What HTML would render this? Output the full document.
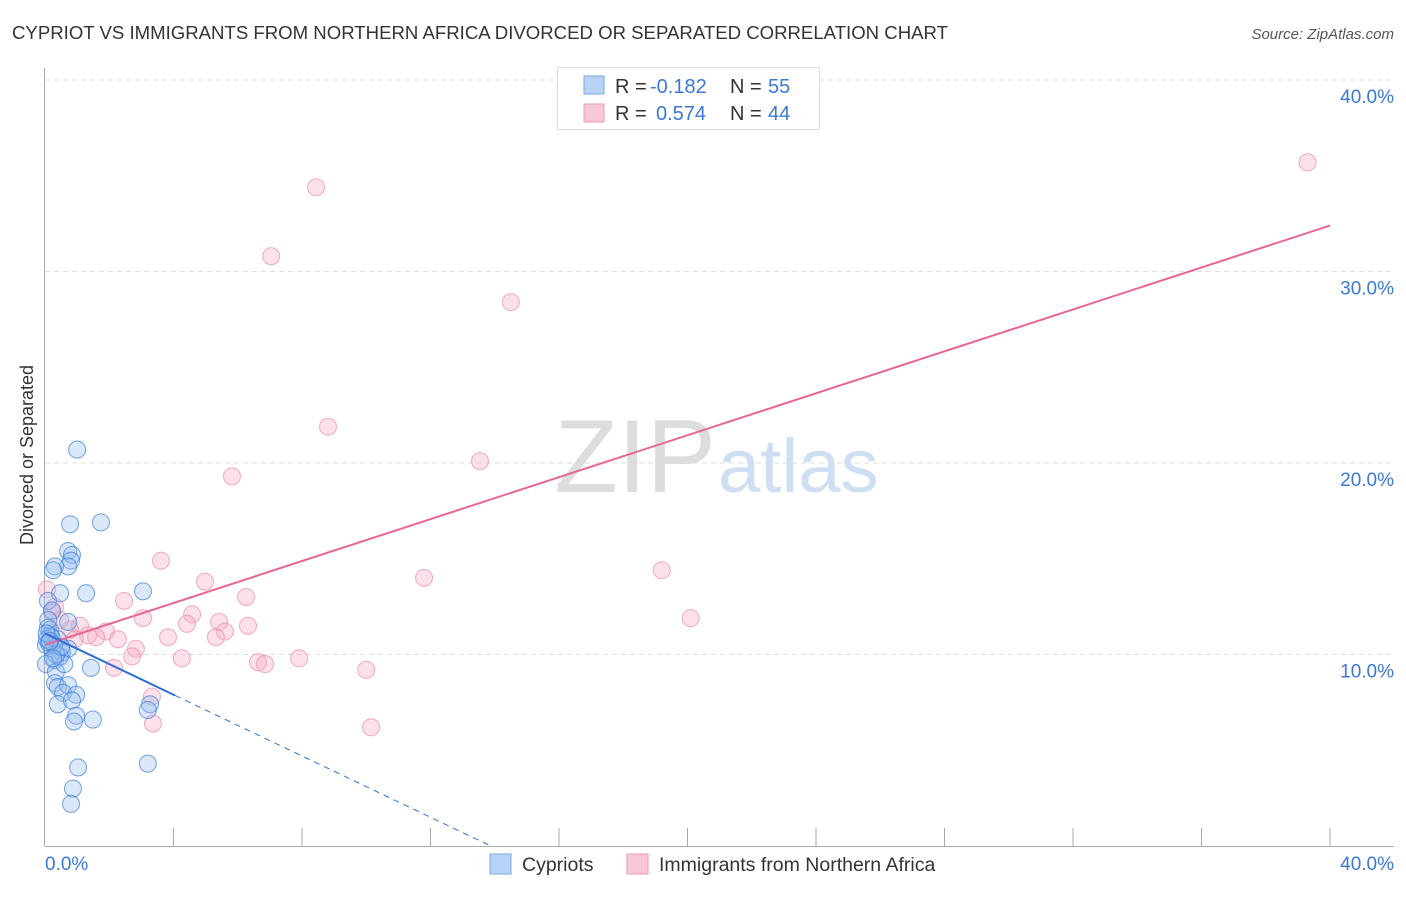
<!DOCTYPE html>
<html><head><meta charset="utf-8"><style>
body{margin:0;background:#fff;font-family:"Liberation Sans",sans-serif;}
svg text{font-family:"Liberation Sans",sans-serif;}
</style></head><body>
<svg id="chart" width="1406" height="892">
<text x="12" y="39" font-size="18.6" fill="#333">CYPRIOT VS IMMIGRANTS FROM NORTHERN AFRICA DIVORCED OR SEPARATED CORRELATION CHART</text>
<text x="1394" y="39" font-size="15" fill="#555" text-anchor="end" font-style="italic">Source: ZipAtlas.com</text>
<g id="grid"></g>
<text x="716" y="492" font-size="104" fill="#ddd" text-anchor="end" font-family="Liberation Serif">ZIP</text>
<text x="718" y="492" font-size="76" fill="#cfdff3">atlas</text>
<g id="ticks"></g>
<g id="pts"></g>
<g id="lines"></g>
<text x="33" y="455" font-size="18" fill="#333" text-anchor="middle" transform="rotate(-90 33 455)">Divorced or Separated</text>
<g>
<rect x="557.5" y="67.5" width="262" height="62" fill="#fff" stroke="#ddd"/>
<rect x="584" y="76" width="20" height="18" fill="#b8d3f5" stroke="#7aa7e6"/>
<rect x="584" y="104" width="20" height="18" fill="#f9c8d6" stroke="#ee9ab3"/>
<text x="615" y="93" font-size="20" fill="#333">R = <tspan x="650" fill="#3b78d8">-0.182</tspan></text>
<text x="730" y="93" font-size="20" fill="#333">N = <tspan x="768" fill="#3b78d8">55</tspan></text>
<text x="615" y="120" font-size="20" fill="#333">R = <tspan x="656" fill="#3b78d8">0.574</tspan></text>
<text x="730" y="120" font-size="20" fill="#333">N = <tspan x="768" fill="#3b78d8">44</tspan></text>
</g>
<g>
<rect x="490" y="854" width="21" height="20" fill="#b8d3f5" stroke="#7aa7e6"/>
<text x="522" y="871" font-size="19.5" fill="#333">Cypriots</text>
<rect x="627" y="854" width="21" height="20" fill="#f9c8d6" stroke="#ee9ab3"/>
<text x="659" y="871" font-size="19.5" fill="#333">Immigrants from Northern Africa</text>
</g>
<text x="45" y="870" font-size="19" fill="#3b78d8">0.0%</text>
<text x="1394" y="870" font-size="19" fill="#3b78d8" text-anchor="end">40.0%</text>
</svg>
<script>
const yTicks=[10,20,30,40];
const yTickLabels=["10.0%","20.0%","30.0%","40.0%"];
const blueX=[1.0,0.78,1.74,0.72,0.84,0.81,0.72,0.31,0.25,0.47,1.28,3.05,0.09,0.22,0.72,0.09,0.16,0.4,0.03,0.22,0.53,0.72,0.31,0.03,0.34,1.43,0.31,0.4,0.72,0.56,0.97,0.4,0.84,3.27,3.2,0.97,0.9,1.49,1.03,3.2,0.87,0.81,0.16,0.06,0.47,0.6,0.1,0.28,0.2,0.12,0.35,0.05,0.5,0.15,0.25];
const blueY=[20.7,16.8,16.9,15.4,15.2,14.9,14.6,14.6,14.4,13.2,13.2,13.3,12.8,12.3,11.7,11.4,11.0,10.8,10.5,10.3,10.1,10.3,9.7,9.5,9.1,9.3,8.5,8.3,8.4,8.0,7.9,7.4,7.6,7.4,7.1,6.8,6.5,6.6,4.1,4.3,3.0,2.2,11.3,10.8,9.9,9.5,11.8,10.5,10.9,10.6,10.0,11.1,10.4,10.7,9.8];
const pinkX=[39.3,8.44,7.04,14.5,8.81,13.54,5.82,3.61,19.2,11.8,4.98,2.46,6.26,0.31,4.58,3.05,20.1,4.42,5.42,6.32,1.09,1.9,0.78,5.6,5.32,3.83,2.27,1.59,2.83,2.71,4.26,7.91,6.63,6.85,2.15,10.0,3.33,3.36,10.15,0.22,0.06,0.47,1.34,0.93];
const pinkY=[35.7,34.4,30.8,28.4,21.9,20.1,19.3,14.9,14.4,14.0,13.8,12.8,13.0,12.5,12.1,11.9,11.9,11.6,11.7,11.5,11.5,11.2,11.3,11.2,10.9,10.9,10.8,10.9,10.3,9.9,9.8,9.8,9.6,9.5,9.3,9.2,7.8,6.4,6.2,12.2,13.4,11.8,11.0,10.8];
const pinkTrend=[10.5,32.4];
const blueTrend=[11.1,-0.8];
const NS="http://www.w3.org/2000/svg";
const sx=v=>45+v/40*1285, sy=v=>846-v/10*191.5;
function mk(tag,attrs,parent){const e=document.createElementNS(NS,tag);for(const k in attrs)e.setAttribute(k,attrs[k]);document.getElementById(parent).appendChild(e);return e;}
yTicks.forEach((t,i)=>{
 const l=mk('line',{x1:45,x2:1394,y1:sy(t),y2:sy(t),stroke:'#ddd','stroke-dasharray':'5,4'},'grid');
 
 
 const tx=mk('text',{x:1394,y:sy(t)+23,'font-size':19,fill:'#3b78d8','text-anchor':'end'},'grid');
 tx.textContent=yTickLabels[i];
 
 
});
const ax=mk('line',{x1:44.5,x2:44.5,y1:68,y2:846,stroke:'#aaa'},'grid');


const bx=mk('line',{x1:45,x2:1394,y1:846.5,y2:846.5,stroke:'#aaa'},'grid');


for(let i=1;i<=10;i++){
 const l=mk('line',{x1:sx(i*4),x2:sx(i*4),y1:828,y2:846,stroke:'#aaa'},'ticks');
 
 
}
pinkX.forEach((x,i)=>{
 const c=mk('circle',{cx:sx(x),cy:sy(pinkY[i]),r:8.5,fill:'rgba(246,170,195,0.35)',stroke:'rgba(232,130,165,0.6)','stroke-width':1.1},'pts');
 
 
});
blueX.forEach((x,i)=>{
 const c=mk('circle',{cx:sx(x),cy:sy(blueY[i]),r:8.5,fill:'rgba(150,190,240,0.35)',stroke:'rgba(60,125,215,0.65)','stroke-width':1.1},'pts');
 
 
});
const pl=mk('line',{x1:sx(0),y1:sy(pinkTrend[0]),x2:sx(40),y2:sy(pinkTrend[1]),stroke:'#e8678f','stroke-width':2},'lines');


const bEnd=4.05, bZero=-blueTrend[0]/blueTrend[1];
const bl=mk('line',{x1:sx(0),y1:sy(blueTrend[0]),x2:sx(bEnd),y2:sy(blueTrend[0]+blueTrend[1]*bEnd),stroke:'#2f6fd6','stroke-width':2},'lines');


const bd=mk('line',{x1:sx(bEnd),y1:sy(blueTrend[0]+blueTrend[1]*bEnd),x2:sx(bZero),y2:sy(0),stroke:'#2f6fd6','stroke-width':1,'stroke-dasharray':'6,5'},'lines');


</script>
</body></html>
